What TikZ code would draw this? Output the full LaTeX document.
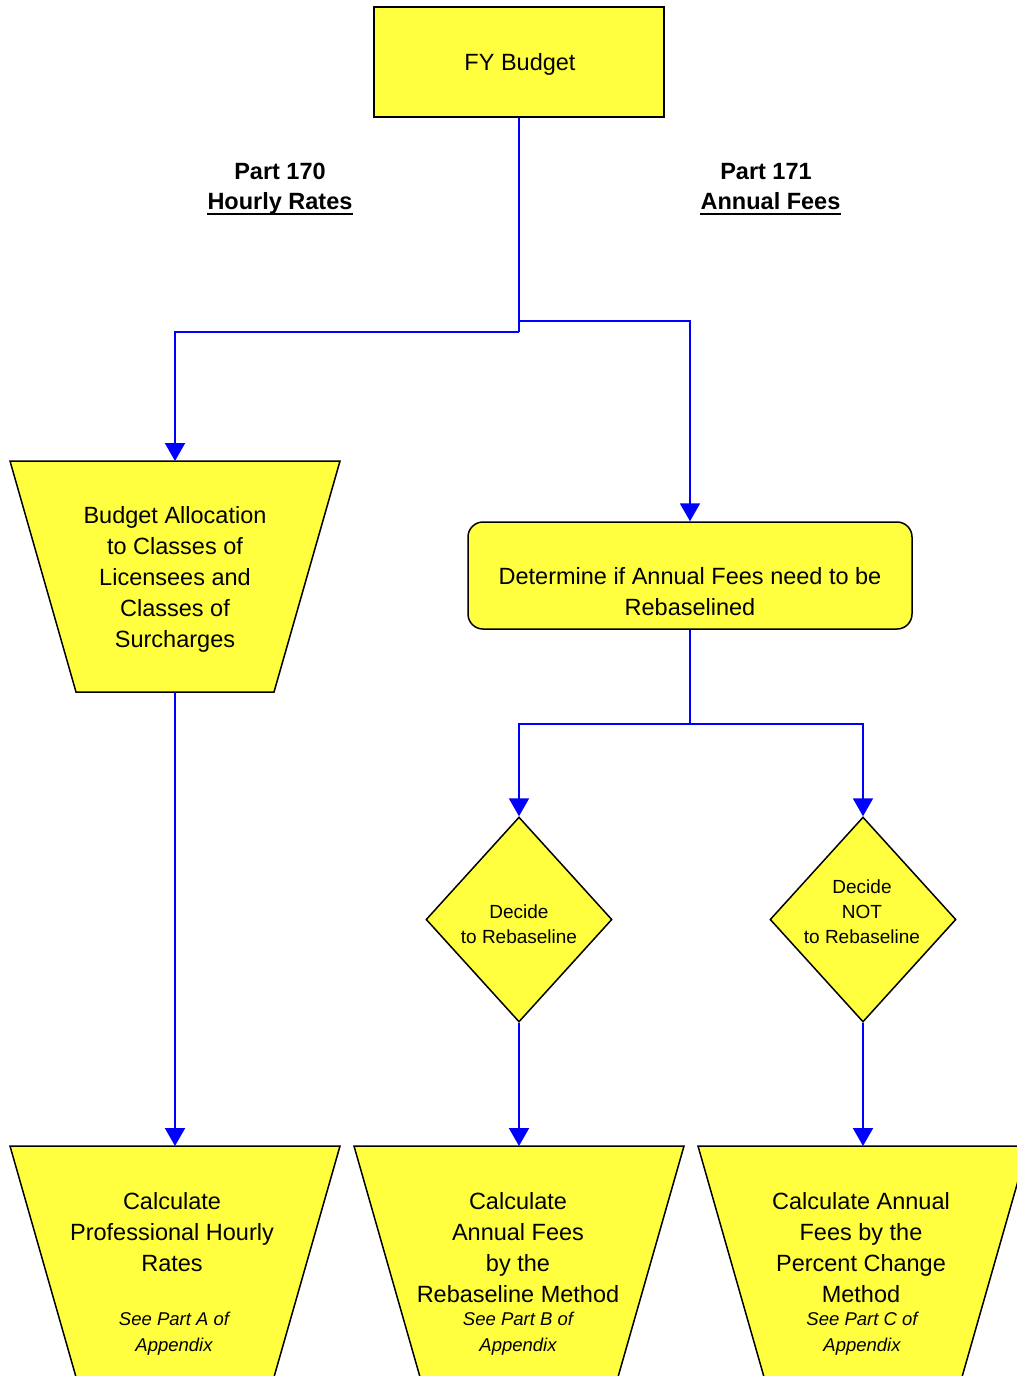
\documentclass[tikz,border=0pt]{standalone}
\usepackage{fontspec}
\setmainfont{Liberation Sans}
\usetikzlibrary{shapes.geometric,arrows.meta}
\definecolor{boxyellow}{RGB}{255,255,64}
\definecolor{connblue}{RGB}{0,0,255}
\tikzset{
  shapebox/.style={draw=black, line width=1.5pt, fill=boxyellow},
  conn/.style={draw=connblue, line width=2pt},
  connarrow/.style={conn, -{Triangle[width=20pt,length=18pt]}},
  maintext/.style={font=\fontsize{23.5}{31}\selectfont, align=center, inner sep=0pt},
  smalltext/.style={font=\fontsize{19}{25}\selectfont, align=center, inner sep=0pt},
  notetext/.style={font=\fontsize{18.5}{26}\selectfont\itshape, align=center, inner sep=0pt},
  headtext/.style={font=\fontsize{23.5}{31}\selectfont\bfseries, inner sep=0pt, anchor=base},
}
\newcommand{\trap}[2]{% center x, top y
  \draw[shapebox] (#1-165,#2) -- (#1+165,#2) -- (#1+99,#2+231) -- (#1-99,#2+231) -- cycle;}
\begin{document}
\begin{tikzpicture}[x=1pt,y=-1pt]
\clip (0,0) rectangle (1017,1376);
\fill[white] (0,0) rectangle (1017,1376);

% top box
\node[shapebox, rectangle, minimum width=290pt, minimum height=110pt, maintext] (fy) at (519,62) {};
\node[maintext] (fyt) at (520,64) {FY Budget};

% headings
\node[headtext] (p170) at (280,179) {Part 170};
\node[headtext] (hr) at (280,209) {Hourly Rates};
\node[headtext] (p171) at (766,179) {Part 171};
\node[headtext] (af) at (770.5,209) {Annual Fees};
\draw[line width=2pt] ([yshift=-5pt]hr.base west) -- ([yshift=-5pt]hr.base east);
\draw[line width=2pt] ([yshift=-5pt]af.base west) -- ([yshift=-5pt]af.base east);

% trapezoid 1
\trap{175}{461}
\coordinate (t1top) at (175,461);
\coordinate (t1bot) at (175,692);
\node[maintext] (t1) at (175,579) {Budget Allocation\\to Classes of\\Licensees and\\Classes of\\Surcharges};

% rounded box
\node[shapebox, rectangle, rounded corners=15pt, minimum width=444pt, minimum height=107pt] (det) at (690,575.5) {};
\node[maintext] (dett) at (690,592) {Determine if Annual Fees need to be\\Rebaselined};

% diamonds
\node[shapebox, diamond, minimum width=186pt, minimum height=205pt, inner sep=0pt] (d1) at (519,919.5) {};
\node[smalltext] (d1t) at (519,924) {Decide\\to Rebaseline};
\node[shapebox, diamond, minimum width=186pt, minimum height=205pt, inner sep=0pt] (d2) at (863,919.5) {};
\node[smalltext] (d2t) at (862,912) {Decide\\NOT\\to Rebaseline};

% bottom trapezoids
\trap{175}{1146}
\trap{519}{1146}
\trap{863}{1146}
\coordinate (t2top) at (175,1146);
\coordinate (t3top) at (519,1146);
\coordinate (t4top) at (863,1146);
\node[maintext] (t2) at (172,1232) {Calculate\\Professional Hourly\\Rates};
\node[notetext] (n2) at (174,1334) {See Part A of\\Appendix};
\node[maintext] (t3) at (518,1248) {Calculate\\Annual Fees\\by the\\Rebaseline Method};
\node[notetext] (n3) at (518,1334) {See Part B of\\Appendix};
\node[maintext] (t4) at (861,1248) {Calculate Annual\\Fees by the\\Percent Change\\Method};
\node[notetext] (n4) at (862,1334) {See Part C of\\Appendix};

% connectors
\coordinate (j1) at (519,332);
\coordinate (j2) at (519,321);
\coordinate (k) at (690,724);
\draw[conn] (fy.south) -- (j1);
\draw[connarrow] (j1) -| (t1top);
\draw[connarrow] (j2) -| (det.north);
\draw[conn] (det.south) -- (k);
\draw[connarrow] (k) -| (d1.north);
\draw[connarrow] (k) -| (d2.north);
\draw[connarrow] (t1bot) -- (t2top);
\draw[connarrow] (d1.south) -- (t3top);
\draw[connarrow] (d2.south) -- (t4top);
\end{tikzpicture}
\end{document}
